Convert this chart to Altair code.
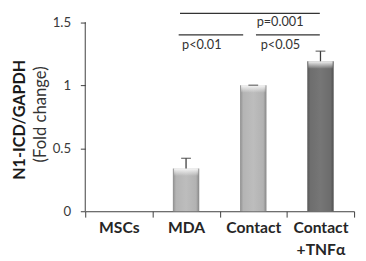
import altair as alt
import pandas as pd

# ---- data ----
categories = ["MSCs", "MDA", "Contact", "Contact\n+TNFα"]
means = [0.0, 0.34, 1.0, 1.19]
errors = [0.0, 0.08, 0.0, 0.08]

# significance annotations
sig_top_span = ["MDA", "Contact\n+TNFα"]
sig_top_y = 1.57
sig_left_span = ["MDA", "Contact"]
sig_right_span = ["Contact", "Contact\n+TNFα"]
sig_low_y = 1.40
sig_texts = ["p=0.001", "p<0.01", "p<0.05"]
sig_text_groups = ["Contact", "MDA", "Contact"]
sig_text_y = [1.50, 1.32, 1.32]

y_ticks = [0, 0.5, 1, 1.5]

df = pd.DataFrame({"group": categories, "mean": means, "err": errors})
df["upper"] = df["mean"] + df["err"]

xscale = alt.Scale(domain=categories, paddingInner=0, paddingOuter=0)
yscale = alt.Scale(domain=[0, 1.59], nice=False, zero=True)

AX = "#3c3c3c"

base = alt.Chart(df)

light_grad = alt.Gradient(
    gradient="linear", x1=0, x2=1, y1=0, y2=0,
    stops=[alt.GradientStop(color="#8e8e8e", offset=0),
           alt.GradientStop(color="#b4b4b4", offset=0.12),
           alt.GradientStop(color="#bdbdbd", offset=0.5),
           alt.GradientStop(color="#b2b2b2", offset=0.88),
           alt.GradientStop(color="#868686", offset=1)])
dark_grad = alt.Gradient(
    gradient="linear", x1=0, x2=1, y1=0, y2=0,
    stops=[alt.GradientStop(color="#575757", offset=0),
           alt.GradientStop(color="#6e6e6e", offset=0.12),
           alt.GradientStop(color="#767676", offset=0.5),
           alt.GradientStop(color="#6c6c6c", offset=0.88),
           alt.GradientStop(color="#505050", offset=1)])
top_grad = alt.Gradient(
    gradient="linear", x1=0, x2=0, y1=0, y2=1,
    stops=[alt.GradientStop(color="rgba(250,250,250,0.95)", offset=0),
           alt.GradientStop(color="rgba(250,250,250,0)", offset=1)])

xenc = alt.X("group:N", scale=xscale, sort=categories,
             axis=alt.Axis(title=None, tickBand="extent", tickSize=6, tickColor=AX,
                           domainColor=AX, labelAngle=0, labelFontSize=16,
                           labelFontWeight="bold", labelColor="#262626",
                           labelPadding=3, labelLineHeight=22, labelBaseline="top",
                           labelExpr="split(datum.label, '\\n')"))
yenc = alt.Y("mean:Q", scale=yscale,
             axis=alt.Axis(values=y_ticks, format="~g", grid=False, domain=False,
                           tickSize=5, tickColor=AX, labelFontSize=13.5,
                           labelColor="#3a3a3a", labelPadding=10,
                           title="N1-ICD/GAPDH", titleFontSize=16.5,
                           titleFontWeight="bold", titleColor="#1a1a1a",
                           titleAngle=270, titleX=-67, titleY=111,
                           titleBaseline="middle", titleAlign="center"))

bars_light = base.mark_bar(size=27, color=light_grad).encode(x=xenc, y=yenc).transform_filter(
    "datum.group != 'Contact\\n+TNFα'")
bars_dark = base.mark_bar(size=27, color=dark_grad).encode(x=xenc, y=yenc).transform_filter(
    "datum.group == 'Contact\\n+TNFα'")
bevel = base.transform_filter("datum.mean > 0").transform_calculate(
    low="datum.mean - 0.06").mark_bar(size=25, color=top_grad).encode(
    x=alt.X("group:N", scale=xscale), y=alt.Y("mean:Q", scale=yscale), y2="low:Q")

err_rule = base.transform_filter("datum.mean > 0").mark_rule(color=AX, strokeWidth=1.3).encode(
    x=alt.X("group:N", scale=xscale), y=alt.Y("mean:Q", scale=yscale), y2="upper:Q")
err_cap = base.transform_filter("datum.mean > 0").mark_tick(
    color=AX, size=10, thickness=1.3, orient="horizontal").encode(
    x=alt.X("group:N", scale=xscale), y=alt.Y("upper:Q", scale=yscale))

yaxis_line = alt.Chart(pd.DataFrame({"a": [0]})).mark_rule(color=AX, strokeWidth=1).encode(
    x=alt.value(0), y=alt.datum(0, scale=yscale), y2=alt.datum(y_ticks[-1]))


def sig_line(span, yv, b0, b1):
    d = pd.DataFrame({"group": [span[0]], "end": [span[1]], "y": [yv]})
    return alt.Chart(d).mark_rule(color="#333333", strokeWidth=1.3).encode(
        x=alt.X("group:N", scale=xscale, bandPosition=b0),
        x2=alt.X2("end:N", bandPosition=b1),
        y=alt.Y("y:Q", scale=yscale))


line_top = sig_line(sig_top_span, sig_top_y, 0.41, 0.49)
line_left = sig_line(sig_left_span, sig_low_y, 0.39, 0.35)
line_right = sig_line(sig_right_span, sig_low_y, 0.54, 0.49)

texts = []
for t, g, yv, bp in zip(sig_texts, sig_text_groups, sig_text_y, [0.55, 0.44, 0.61]):
    d = pd.DataFrame({"group": [g], "y": [yv], "t": [t]})
    texts.append(alt.Chart(d).mark_text(align="left", baseline="middle", fontSize=13,
                                        color="#333333").encode(
        x=alt.X("group:N", scale=xscale, bandPosition=bp),
        y=alt.Y("y:Q", scale=yscale), text="t:N"))

subtitle = alt.Chart(pd.DataFrame({"t": ["(Fold change)"]})).mark_text(
    angle=270, fontSize=17, color="#333333", baseline="middle", align="center").encode(
    x=alt.value(-45), y=alt.value(106), text="t:N")

chart = alt.layer(
    bars_light, bars_dark, bevel, err_rule, err_cap, yaxis_line,
    line_top, line_left, line_right, *texts, subtitle
).properties(
    width=275, height=205,
    padding={"left": 79, "top": 0, "right": 4, "bottom": 48},
    autosize="none",
).configure(font="Lato").configure_view(stroke=None)

chart.save("out.html", embed_options={"renderer": "svg", "actions": False})
